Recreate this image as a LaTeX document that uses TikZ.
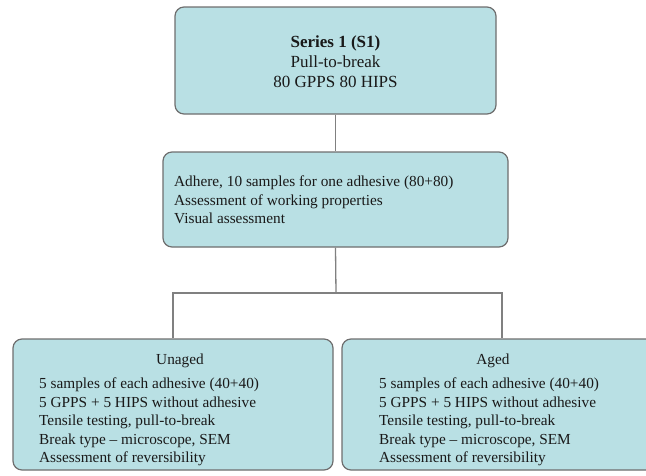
\documentclass[tikz,border=0pt]{standalone}
\usepackage{fontspec}
\setmainfont{Liberation Serif}
\definecolor{boxfill}{RGB}{185,224,228}
\definecolor{boxline}{RGB}{110,110,110}
\definecolor{connline}{RGB}{128,128,128}
\begin{document}
\begin{tikzpicture}[x=1pt,y=-1pt,
  box/.style={draw=boxline,line width=1.2pt,fill=boxfill,rounded corners=9pt,inner sep=0pt},
  conn/.style={draw=connline,line width=1.3pt},
  txt/.style={font=\fontsize{15.3}{18.5}\selectfont,inner sep=0pt,text=black!90}
]
\useasboundingbox (0,0) rectangle (646,475);
\clip (0,0) rectangle (646,475);
% boxes
\node[box,minimum width=321pt,minimum height=107pt] (top) at (335.5,60.5) {};
\node[box,minimum width=345pt,minimum height=95pt] (mid) at (335.5,199.5) {};
\node[box,minimum width=320pt,minimum height=131pt] (left) at (173,404.5) {};
\node[box,minimum width=320pt,minimum height=131pt] (right) at (502,404.5) {};
% texts
\node[txt,align=center,font=\fontsize{17}{20}\selectfont] (toptxt) at (335.5,62) {\textbf{Series 1 (S1)}\\Pull-to-break\\80 GPPS 80 HIPS};
\node[txt,align=left,anchor=west] (midtxt) at (174,200) {Adhere, 10 samples for one adhesive (80+80)\\Assessment of working properties\\Visual assessment};
\node[txt] (lefttitle) at (180,361) {Unaged};
\node[txt,align=left,anchor=west] (lefttxt) at (39,422) {5 samples of each adhesive (40+40)\\5 GPPS + 5 HIPS without adhesive\\Tensile testing, pull-to-break\\Break type -- microscope, SEM\\Assessment of reversibility};
\node[txt] (righttitle) at (493,361) {Aged};
\node[txt,align=left,anchor=west] (righttxt) at (379,422) {5 samples of each adhesive (40+40)\\5 GPPS + 5 HIPS without adhesive\\Tensile testing, pull-to-break\\Break type -- microscope, SEM\\Assessment of reversibility};
% connectors
\coordinate (j) at (336,293);
\draw[conn] (top.south) -- (mid.north);
\draw[conn] (mid.south) -- (j);
\draw[conn] (left.north) |- (j) -| (right.north);
\end{tikzpicture}
\end{document}
